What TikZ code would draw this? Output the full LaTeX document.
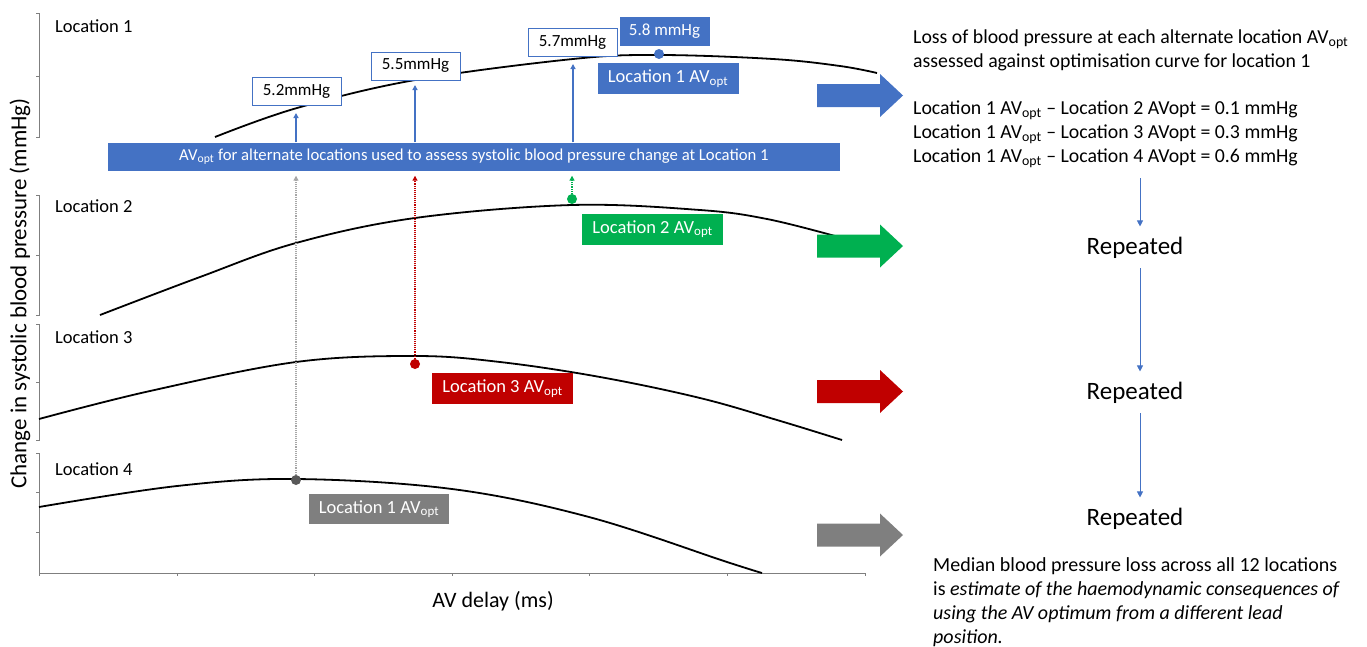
\documentclass[tikz,border=0pt]{standalone}
\usepackage{fontspec}
\setmainfont{Carlito}
\usetikzlibrary{arrows.meta,calc}
\definecolor{cblue}{HTML}{4472C4}
\definecolor{cgreen}{HTML}{00B050}
\definecolor{cred}{HTML}{C00000}
\definecolor{cgray}{HTML}{7F7F7F}
\definecolor{cdgray}{HTML}{595959}
\definecolor{caxis}{HTML}{7F7F7F}
\newcommand\fs[1]{\fontsize{#1}{#1}\selectfont}
\newcommand\bigarrow[2]{\fill[#1] (817,#2-11.5) -- (880,#2-11.5) -- (880,#2-21.5) -- (903,#2) -- (880,#2+21.5) -- (880,#2+11.5) -- (817,#2+11.5) -- cycle;}
\tikzset{
  lbl/.style={font=\fs{18.5}, anchor=base west, inner sep=0},
  rtxt/.style={font=\fs{19.8}, anchor=base west, inner sep=0},
  valbox/.style={draw=cblue, line width=1pt, fill=white, font=\fs{17}, minimum width=89pt, minimum height=28pt, inner sep=0},
  tagbox/.style={fill=#1, text=white, font=\fs{18.5}, minimum height=31pt, minimum width=141pt, inner sep=0},
  dotn/.style={circle, fill=#1, minimum size=10pt, inner sep=0},
  upar/.style={cblue, line width=1.4pt, -{Triangle[width=5pt,length=5pt]}},
  dotar/.style={#1, densely dotted, line width=1.1pt, -{Triangle[width=5pt,length=5pt]}, shorten >=5pt},
  curve/.style={black, line width=1.8pt},
  axisl/.style={caxis, line width=1pt},
  flowar/.style={cblue, line width=0.9pt, -{Triangle[width=6pt,length=6pt]}},
  rep/.style={font=\fs{25}, inner sep=0},
}
\begin{document}
\begin{tikzpicture}[x=1pt,y=-1pt]
\useasboundingbox (0,0) rectangle (1367,646);

% axes
\foreach \a/\b/\m in {13/137/76, 195/315/255, 324/440/382}{
  \draw[axisl] (36,\a) -- (39,\a) -- (39,\b) -- (36,\b);
  \draw[axisl] (36,\m) -- (39,\m);
}
\draw[axisl] (36,453) -- (39,453) -- (39,573) -- (865,573);
\foreach \m in {492,532}{ \draw[axisl] (36,\m) -- (39,\m); }
\foreach \t in {39,177,314,452,589,727,865}{ \draw[axisl] (\t,573) -- (\t,576); }

% labels
\node[rotate=90, font=\fs{23}, inner sep=0] (ylab) at (20,293.5) {Change in systolic blood pressure (mmHg)};
\node[font=\fs{22}, anchor=base, inner sep=0] (xlab) at (493,607) {AV delay (ms)};
\node[lbl] (loc1) at (55,32) {Location 1};
\node[lbl] (loc2) at (55,212) {Location 2};
\node[lbl] (loc3) at (55,343) {Location 3};
\node[lbl] (loc4) at (55,475) {Location 4};

% curves
\draw[curve] plot[smooth, tension=0.6] coordinates {(215,137) (297,108) (415,80) (573,59) (659,55) (773,59) (840,66) (877,73)};
\draw[curve] plot[smooth, tension=0.6] coordinates {(100,315) (200,277) (296,243) (415,218) (572,205) (700,210) (767,219) (835,236)};
\draw[curve] plot[smooth, tension=0.6] coordinates {(39,419) (150,391) (296,362) (415,356) (500,362) (600,377) (700,398) (777,420) (842,440)};
\draw[curve] plot[smooth, tension=0.6] coordinates {(39,507) (177,486) (296,479) (452,489) (589,517) (727,562) (762,573)};

% bar
\node[fill=cblue, text=white, font=\fs{16.7}, minimum width=732pt, minimum height=28pt, inner sep=0] (bar) at (474,156.5)
  {AV\textsubscript{opt} for alternate locations used to assess systolic blood pressure change at Location 1};

% dots
\node[dotn=cblue] (d1) at (659,54) {};
\node[dotn=cgreen] (d2) at (572,199) {};
\node[dotn=cred] (d3) at (415,364) {};
\node[dotn=cdgray] (d4) at (296,480) {};

% value boxes
\node[valbox] (v52) at (296.5,91.5) {5.2mmHg};
\node[valbox] (v55) at (415.5,66) {5.5mmHg};
\node[valbox] (v57) at (572.5,42.5) {5.7mmHg};
\node[valbox, fill=cblue, draw=cblue, text=white] (v58) at (664.5,31) {5.8 mmHg};

% tags
\node[tagbox=cblue] (t1) at (668,78.5) {Location 1 AV\textsubscript{opt}};
\node[tagbox=cgreen] (t2) at (652.5,229) {Location 2 AV\textsubscript{opt}};
\node[tagbox=cred] (t3) at (502.5,388.5) {Location 3 AV\textsubscript{opt}};
\node[tagbox=cgray, minimum width=140pt, minimum height=30pt] (t4) at (379,509) {Location 1 AV\textsubscript{opt}};

% up arrows to curve 1
\coordinate (e1) at (296,113);
\coordinate (e2) at (415,85);
\coordinate (e3) at (573,64);
\draw[upar] (bar.north -| e1) -- (e1);
\draw[upar] (bar.north -| e2) -- (e2);
\draw[upar] (bar.north -| e3) -- (e3);

% dotted arrows
\draw[dotar=gray!70] (d4) -- (bar.south -| d4);
\draw[dotar=cred] (d3) -- (bar.south -| d3);
\draw[dotar=cgreen] (d2) -- (bar.south -| d2);

% block arrows
\bigarrow{cblue}{95.5}
\bigarrow{cgreen}{246}
\bigarrow{cred}{391.5}
\bigarrow{cgray}{535}

% right text
\node[rtxt] (h1) at (913,43) {Loss of blood pressure at each alternate location AV\textsubscript{opt}};
\node[rtxt] (h2) at (913,67) {assessed against optimisation curve for location 1};
\node[rtxt] (q1) at (913,114) {Location 1 AV\textsubscript{opt} \textendash{} Location 2 AVopt = 0.1 mmHg};
\node[rtxt] (q2) at (913,138) {Location 1 AV\textsubscript{opt} \textendash{} Location 3 AVopt = 0.3 mmHg};
\node[rtxt] (q3) at (913,162) {Location 1 AV\textsubscript{opt} \textendash{} Location 4 AVopt = 0.6 mmHg};

\node[rep, anchor=base] (r1) at (1135,254) {Repeated};
\node[rep, anchor=base] (r2) at (1135,399) {Repeated};
\node[rep, anchor=base] (r3) at (1135,525) {Repeated};

\coordinate (a0) at (1140,178);
\draw[flowar] (a0) -- ([xshift=5pt,yshift=10pt]r1.north);
\draw[flowar] ([xshift=5pt,yshift=-10pt]r1.south) -- ([xshift=5pt,yshift=10pt]r2.north);
\draw[flowar] ([xshift=5pt,yshift=-10pt]r2.south) -- ([xshift=5pt,yshift=10pt]r3.north);

\node[rtxt, font=\fs{20}] (m1) at (933,571) {Median blood pressure loss across all 12 locations};
\node[rtxt, font=\fs{20}] (m2) at (933,595) {is \textit{estimate of the haemodynamic consequences of}};
\node[rtxt, font=\fs{20}] (m3) at (933,619) {\textit{using the AV optimum from a different lead}};
\node[rtxt, font=\fs{20}] (m4) at (933,643) {\textit{position.}};
\end{tikzpicture}
\end{document}
